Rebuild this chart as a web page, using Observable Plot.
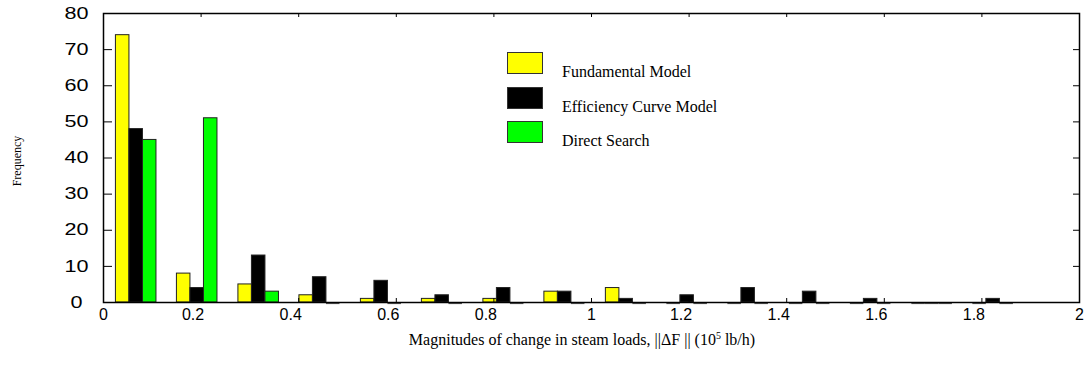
<!DOCTYPE html>
<html><head><meta charset="utf-8">
<script src="https://cdn.jsdelivr.net/npm/d3@7"></script>
<script src="https://cdn.jsdelivr.net/npm/@observablehq/plot@0.6"></script>
<style>
body{margin:0;background:#fff;}
#wrap{position:relative;width:1085px;height:365px;}
.sw{position:absolute;width:36px;height:22px;border:1px solid #333;box-sizing:border-box;}
.lt{position:absolute;font-family:"Liberation Serif","Times New Roman",serif;font-size:16px;color:#000;white-space:nowrap;line-height:1;}
</style></head><body><div id="wrap"></div>
<script>
const binCenters = [0.067, 0.192, 0.318, 0.443, 0.569, 0.694, 0.820, 0.945, 1.071, 1.196, 1.321, 1.447, 1.572, 1.698, 1.823];
const seriesNames = ["Fundamental Model", "Efficiency Curve Model", "Direct Search"];
const seriesColors = ["#ffff00", "#000000", "#00ff00"];
const fundamental = [74, 8, 5, 2, 1, 1, 1, 3, 4, 0, 0, 0, 0, 0, 0];
const efficiency = [48, 4, 13, 7, 6, 2, 4, 3, 1, 2, 4, 3, 1, 0, 1];
const directSearch = [45, 51, 3, 0, 0, 0, 0, 0, 0, 0, 0, 0, 0, 0, 0];
const xTicks = [0, 0.2, 0.4, 0.6, 0.8, 1, 1.2, 1.4, 1.6, 1.8, 2];
const yTicks = [0, 10, 20, 30, 40, 50, 60, 70, 80];
const barWidth = 0.0277;

const W = 1085, H = 365, mL = 103, mR = 6, mT = 13, mB = 63;
const plotW = W - mL - mR, plotH = H - mT - mB;

const allSeries = [fundamental, efficiency, directSearch];
const rows = [];
binCenters.forEach((c, i) => {
  allSeries.forEach((vals, s) => {
    rows.push({
      series: seriesNames[s],
      value: vals[i],
      x1: c + (s - 1.5) * barWidth,
      x2: c + (s - 0.5) * barWidth
    });
  });
});
const nonzero = rows.filter(d => d.value > 0);
const zeros = rows.filter(d => d.value === 0);
const intTicks = xTicks.filter(d => Number.isInteger(d));
const decTicks = xTicks.filter(d => !Number.isInteger(d));

const chart = Plot.plot({
  width: W, height: H,
  marginLeft: mL, marginRight: mR, marginTop: mT, marginBottom: mB,
  x: {domain: [0, 2]},
  y: {domain: [0, 80]},
  color: {domain: seriesNames, range: seriesColors},
  style: {fontFamily: "'Liberation Sans', Arial, sans-serif", fontSize: "16px", color: "#000", background: "#fff"},
  marks: [
    Plot.rectY(nonzero, {x1: "x1", x2: "x2", y1: 0, y2: "value", fill: "series", stroke: "#222", strokeWidth: 1}),
    Plot.ruleY(zeros, {y: 0, x1: "x1", x2: "x2", stroke: "#555", strokeWidth: 1.2, dy: 1}),
    Plot.frame({stroke: "#000", strokeWidth: 1.5}),
    Plot.axisX(intTicks, {tickSize: 0, tickPadding: 6, tickFormat: d => String(d), label: null}),
    Plot.axisX(decTicks, {tickSize: 0, tickPadding: 6, dx: -8, tickFormat: d => String(d), label: null}),
    Plot.axisY(yTicks, {tickSize: 0, tickPadding: 27, textAnchor: "middle", label: null}),
    Plot.tickY(yTicks, {y: d => d, insetRight: plotW - 9, stroke: "#000"}),
    Plot.tickY(yTicks, {y: d => d, insetLeft: plotW - 6, stroke: "#000"}),
    Plot.tickX(xTicks, {x: d => d, insetTop: plotH - 4, stroke: "#000"}),
    Plot.tickX(xTicks, {x: d => d, insetBottom: plotH - 4, stroke: "#000"})
  ]
});
const wrap = document.getElementById("wrap");
wrap.appendChild(chart);

const svg = d3.select(chart);
svg.selectAll('g[aria-label="y-axis tick label"] text').each(function() {
  const bb = this.getBBox();
  const cx = bb.x + bb.width / 2;
  const prev = this.getAttribute("transform") || "";
  this.setAttribute("transform", `${prev} translate(${cx},0) scale(1.35,1) translate(${-cx},0)`);
});
svg.append("text")
  .attr("transform", "translate(21,161) rotate(-90)")
  .attr("text-anchor", "middle")
  .attr("font-family", "'Liberation Serif','Times New Roman',serif")
  .attr("font-size", 12)
  .attr("fill", "#000")
  .text("Frequency");
const xl = svg.append("text")
  .attr("x", 582).attr("y", 345)
  .attr("text-anchor", "middle")
  .attr("font-family", "'Liberation Serif','Times New Roman',serif")
  .attr("font-size", 16)
  .attr("fill", "#000");
xl.append("tspan").text("Magnitudes of change in steam loads, ||\u0394F || (10");
xl.append("tspan").attr("font-size", 10).attr("dy", -6).text("5");
xl.append("tspan").attr("dy", 6).text(" lb/h)");

seriesNames.forEach((name, i) => {
  const top = 52 + i * 34.5;
  const sw = document.createElement("div");
  sw.className = "sw";
  sw.style.left = "507px"; sw.style.top = top + "px";
  sw.style.background = seriesColors[i];
  wrap.appendChild(sw);
  const t = document.createElement("div");
  t.className = "lt";
  t.style.left = "562px"; t.style.top = (top + 12) + "px";
  t.textContent = name;
  wrap.appendChild(t);
});
</script>
</body></html>
